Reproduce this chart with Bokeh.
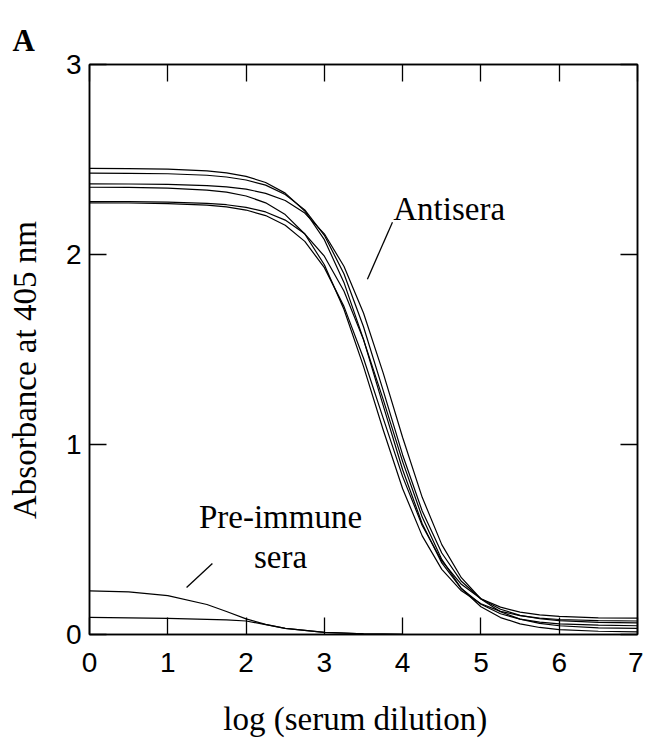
from bokeh.plotting import figure
from bokeh.models import LinearAxis, FixedTicker, Range1d, Label
from bokeh.embed import file_html
from bokeh.resources import INLINE

# ---------------- data ----------------
X_TICKS = [0, 1, 2, 3, 4, 5, 6, 7]
Y_TICKS = [0, 1, 2, 3]

# log(serum dilution) sample positions for the antisera curves
antisera_x = [0, 0.5, 1, 1.5, 1.75, 2, 2.25, 2.5, 2.75, 3, 3.25, 3.5, 3.75,
              4, 4.25, 4.5, 4.75, 5, 5.25, 5.5, 5.75, 6, 6.5, 7]

antiserum_1 = [2.453, 2.452, 2.449, 2.440, 2.430, 2.411, 2.379, 2.323, 2.229,
               2.078, 1.853, 1.553, 1.207, 0.867, 0.583, 0.377, 0.242, 0.159,
               0.109, 0.081, 0.065, 0.056, 0.049, 0.046]
antiserum_2 = [2.428, 2.427, 2.425, 2.417, 2.408, 2.392, 2.365, 2.316, 2.235,
               2.101, 1.899, 1.620, 1.286, 0.945, 0.650, 0.429, 0.280, 0.188,
               0.133, 0.101, 0.083, 0.073, 0.064, 0.061]
antiserum_3 = [2.372, 2.371, 2.369, 2.363, 2.356, 2.344, 2.322, 2.284, 2.218,
               2.109, 1.938, 1.692, 1.378, 1.037, 0.722, 0.473, 0.299, 0.187,
               0.120, 0.081, 0.059, 0.046, 0.035, 0.032]
antiserum_4 = [2.354, 2.353, 2.349, 2.339, 2.328, 2.308, 2.272, 2.210, 2.108,
               1.946, 1.712, 1.411, 1.079, 0.767, 0.519, 0.343, 0.230, 0.162,
               0.122, 0.099, 0.086, 0.079, 0.073, 0.071]
antiserum_5 = [2.279, 2.278, 2.276, 2.269, 2.262, 2.248, 2.224, 2.181, 2.109,
               1.991, 1.808, 1.552, 1.239, 0.910, 0.618, 0.395, 0.242, 0.146,
               0.089, 0.056, 0.037, 0.026, 0.017, 0.014]
antiserum_6 = [2.272, 2.271, 2.268, 2.260, 2.251, 2.234, 2.205, 2.154, 2.069,
               1.931, 1.727, 1.454, 1.140, 0.831, 0.574, 0.387, 0.264, 0.188,
               0.144, 0.118, 0.103, 0.095, 0.088, 0.086]

preimmune_x = [0, 0.5, 1, 1.5, 1.75, 2, 2.25, 2.5, 3, 3.5, 4, 5, 6, 7]
preimmune_1 = [0.230, 0.224, 0.205, 0.158, 0.121, 0.082, 0.053, 0.032, 0.011,
               0.004, 0.001, 0.0, 0.0, 0.0]
preimmune_2 = [0.090, 0.088, 0.085, 0.080, 0.077, 0.071, 0.052, 0.032, 0.011,
               0.004, 0.001, 0.0, 0.0, 0.0]

# annotation texts and their anchor points (data units)
antisera_label = "Antisera"
antisera_label_pos = (3.88, 2.24)
antisera_leader = ([3.87, 2.17], [3.55, 1.87])
preimmune_label = ["Pre-immune", "sera"]
preimmune_label_pos = [(2.44, 0.616), (2.44, 0.406)]
preimmune_leader = ([1.57, 0.374], [1.24, 0.247])
panel_letter = "A"

SERIF = "Liberation Serif"
SANS = "Liberation Sans"
NBSP = "\u00a0"

# ---------------- figure ----------------
p = figure(frame_width=548, frame_height=570,
           x_range=Range1d(0, 7), y_range=Range1d(0, 3),
           output_backend="svg", toolbar_location=None,
           min_border_left=89, min_border_right=6,
           min_border_top=64, min_border_bottom=60,
           x_axis_label="log (serum dilution)" + NBSP * 2,
           y_axis_label="Absorbance at 405 nm" + NBSP * 5)
p.background_fill_color = "white"
p.border_fill_color = "white"
p.outline_line_color = "black"
p.outline_line_width = 1.5
p.xgrid.visible = False
p.ygrid.visible = False

# panel letter as a title
p.title.text = panel_letter
p.title.align = "left"
p.title.offset = -77
p.title.standoff = 10
p.title.vertical_align = "top"
p.title.text_font = SERIF
p.title.text_font_size = "31px"
p.title.text_font_style = "bold"
p.title.text_color = "black"

for ax, ticks in ((p.xaxis[0], X_TICKS), (p.yaxis[0], Y_TICKS)):
    ax.ticker = FixedTicker(ticks=ticks)
    ax.major_tick_in = 17
    ax.major_tick_out = 0
    ax.minor_tick_in = 0
    ax.minor_tick_out = 0
    ax.axis_line_width = 1.5
    ax.major_tick_line_width = 1.3
    ax.major_label_text_font = SANS
    ax.major_label_text_font_size = "28px"
    ax.major_label_text_color = "black"
    ax.axis_label_text_font = SERIF
    ax.axis_label_text_font_size = "33px"
    ax.axis_label_text_font_style = "normal"
    ax.axis_label_text_color = "black"

p.xaxis.major_label_standoff = 18
p.xaxis.axis_label_standoff = 26
p.yaxis.major_label_standoff = 8
p.yaxis.axis_label_standoff = 20

# mirror ticks on top and right
for side, ticks, gap in (("above", X_TICKS, 17), ("right", Y_TICKS, 0)):
    ax = LinearAxis(ticker=FixedTicker(ticks=ticks))
    ax.major_tick_in = 17
    ax.major_tick_out = 0
    ax.minor_tick_in = 0
    ax.minor_tick_out = 0
    ax.axis_line_width = 1.5
    ax.major_tick_line_width = 1.3
    ax.major_label_text_font_size = "1px"
    ax.major_label_text_color = None
    ax.major_label_standoff = gap
    p.add_layout(ax, side)

# curves
for ys in (antiserum_1, antiserum_2, antiserum_3, antiserum_4, antiserum_5, antiserum_6):
    p.line(antisera_x, ys, line_color="black", line_width=1.2)
for ys in (preimmune_1, preimmune_2):
    p.line(preimmune_x, ys, line_color="black", line_width=1.2)

# leader lines
p.segment(x0=[antisera_leader[0][0], preimmune_leader[0][0]],
          y0=[antisera_leader[0][1], preimmune_leader[0][1]],
          x1=[antisera_leader[1][0], preimmune_leader[1][0]],
          y1=[antisera_leader[1][1], preimmune_leader[1][1]],
          line_color="black", line_width=1.3)

# texts
p.add_layout(Label(x=antisera_label_pos[0], y=antisera_label_pos[1], text=antisera_label,
                   text_font=SERIF, text_font_size="33px", text_color="black",
                   text_baseline="alphabetic", text_align="left"))
for t, (lx, ly) in zip(preimmune_label, preimmune_label_pos):
    p.add_layout(Label(x=lx, y=ly, text=t, text_font=SERIF, text_font_size="33px",
                       text_color="black", text_baseline="alphabetic", text_align="center"))

open("out.html", "w").write(file_html(p, INLINE))
